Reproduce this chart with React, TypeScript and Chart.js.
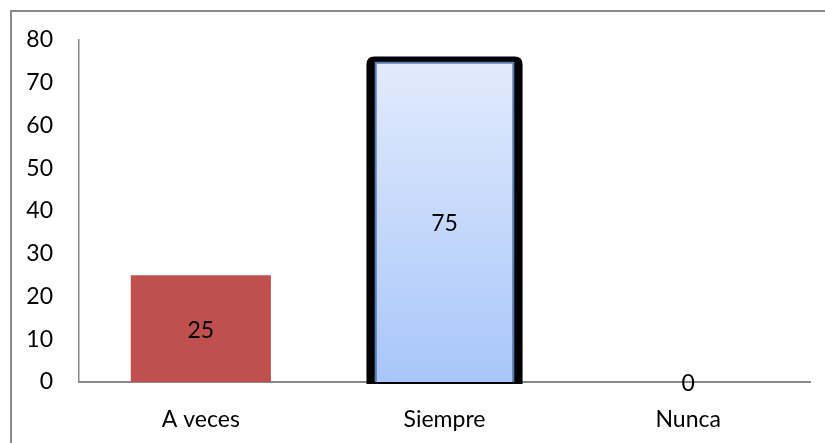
import React, { useEffect, useRef } from "react";
import { Chart, registerables } from "chart.js";
Chart.register(...registerables);

const categories = ["A veces", "Siempre", "Nunca"];
const values = [25, 75, 0];
const yTicks = [0, 10, 20, 30, 40, 50, 60, 70, 80];

const FONT = "Lato, 'Open Sans', sans-serif";
const FS = 23;

export default function App() {
  const ref = useRef<HTMLCanvasElement | null>(null);
  useEffect(() => {
    const canvas = ref.current!;
    const ctx = canvas.getContext("2d")!;

    const outlinePlugin = {
      id: "outline",
      beforeDatasetsDraw(chart: any) {
        const meta = chart.getDatasetMeta(0);
        const bar = meta.data[1];
        if (!bar) return;
        const c = chart.ctx;
        const half = bar.width / 2;
        const x0 = bar.x - half - 8;
        const x1 = bar.x + half + 8;
        const y0 = bar.y - 5;
        const y1 = bar.base + 2;
        const r = 8;
        c.save();
        c.fillStyle = "#000";
        c.beginPath();
        c.moveTo(x0, y1);
        c.lineTo(x0, y0 + r);
        c.quadraticCurveTo(x0, y0, x0 + r, y0);
        c.lineTo(x1 - r, y0);
        c.quadraticCurveTo(x1, y0, x1, y0 + r);
        c.lineTo(x1, y1);
        c.closePath();
        c.fill();
        c.restore();
      },
      afterDatasetsDraw(chart: any) {
        const meta = chart.getDatasetMeta(0);
        const c = chart.ctx;
        c.save();
        c.fillStyle = "#000";
        c.font = FS + "px " + FONT;
        c.textAlign = "center";
        c.textBaseline = "middle";
        meta.data.forEach((bar: any, i: number) => {
          const y = (bar.y + bar.base) / 2 + 2;
          c.fillText(String(values[i]), bar.x, y);
        });
        c.restore();
      },
    };

    const chart = new Chart(ctx, {
      type: "bar",
      data: {
        labels: categories,
        datasets: [
          {
            data: values,
            backgroundColor: (context: any) => {
              const i = context.dataIndex;
              if (i === 1) {
                const area = context.chart.chartArea;
                if (!area) return "#C6D9F8";
                const g = context.chart.ctx.createLinearGradient(0, area.top + 20, 0, area.bottom);
                g.addColorStop(0, "#E2EBFC");
                g.addColorStop(1, "#A8C6FA");
                return g;
              }
              return "#C0504D";
            },
            borderColor: ["#C0504D", "#4F81BD", "#C0504D"],
            borderWidth: [0, 2, 0],
            categoryPercentage: 1,
            barPercentage: 0.575,
          },
        ],
      },
      options: {
        animation: false,
        responsive: false,
        maintainAspectRatio: false,
        layout: { padding: { left: 19, right: 15, top: 40, bottom: 0 } },
        plugins: {
          legend: { display: false },
          tooltip: { enabled: false },
        },
        scales: {
          x: {
            grid: { display: false, drawTicks: false },
            border: { display: true, color: "#888888", width: 2 },
            ticks: {
              color: "#000",
              font: { family: FONT, size: FS },
              padding: 24,
            },
            afterFit: (s: any) => {
              s.height = 61;
            },
          },
          y: {
            min: 0,
            max: 80,
            grid: { display: false, drawTicks: false },
            border: { display: true, color: "#888888", width: 1.5 },
            afterBuildTicks: (s: any) => {
              s.ticks = yTicks.map((v) => ({ value: v }));
            },
            ticks: {
              color: "#000",
              font: { family: FONT, size: FS },
              padding: 26,
            },
            afterFit: (s: any) => {
              s.width = 60;
            },
          },
        },
      },
      plugins: [outlinePlugin],
    });
    return () => chart.destroy();
  }, []);

  return (
    <div style={{ position: "fixed", left: 0, top: 0, width: 825, height: 443, background: "#fff", overflow: "hidden" }}>
      <div
        style={{
          position: "absolute",
          left: 10,
          top: 10,
          width: 900,
          height: 500,
          borderLeft: "2px solid #8a8a8a",
          borderTop: "2px solid #8a8a8a",
        }}
      />
      <canvas ref={ref} width={825} height={443} style={{ position: "absolute", left: 0, top: 0 }} />
    </div>
  );
}
